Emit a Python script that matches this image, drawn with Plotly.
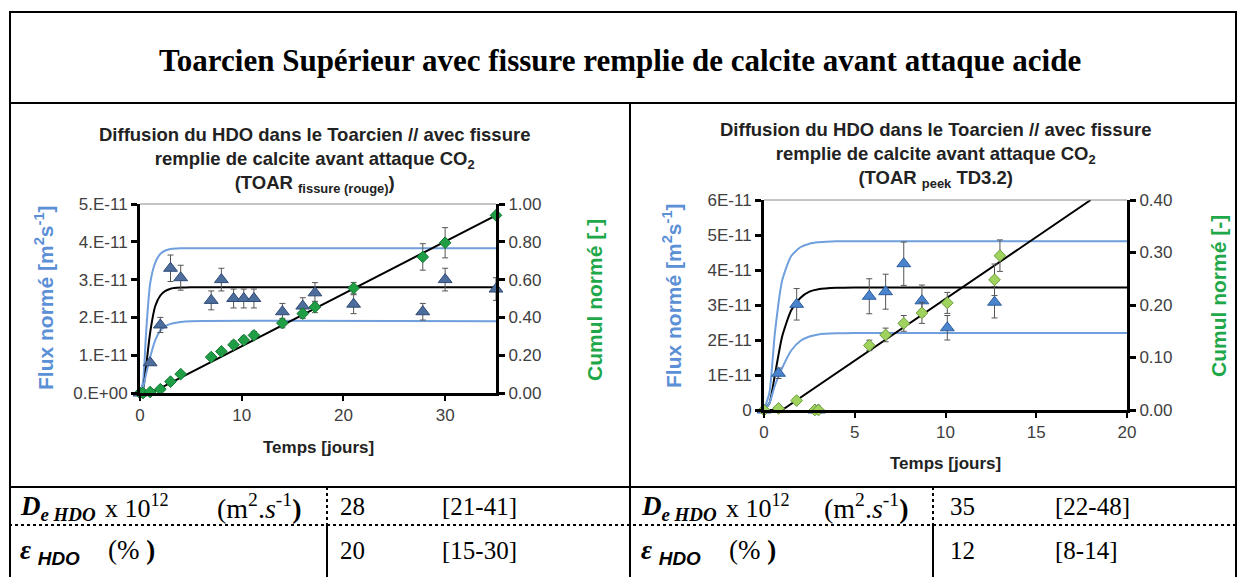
import plotly.graph_objects as go

W, H = 1238, 577
FLUX_UNIT = 1e-11


def X(px):
    return px / W


def Y(py):
    return 1 - py / H


# ---------------- Left chart : TOAR fissure (rouge) ----------------
left_t = [0, 1, 2, 3, 4, 7, 8, 9.2, 10.2, 11.2, 14, 16, 17.2, 21, 27.8, 30, 35]
left_flux = [0, 0.8, 1.8, 3.3, 3.05, 2.45, 3.0, 2.5, 2.5, 2.5, 2.15, 2.3, 2.65, 2.35, 2.15, 3.0, 2.75]
left_flux_err = [0, 0.0, 0.2, 0.35, 0.33, 0.25, 0.3, 0.25, 0.25, 0.25, 0.22, 0.22, 0.27, 0.25, 0.22, 0.3, 0.3]

left_cum_t = [0, 0.3, 1, 2, 3, 4, 7, 8, 9.2, 10.2, 11.2, 14, 16, 17.2, 21, 27.8, 30, 35]
left_cum = [0, 0, 0.005, 0.02, 0.06, 0.10, 0.19, 0.22, 0.255, 0.28, 0.305, 0.37, 0.42, 0.455, 0.555, 0.72, 0.795, 0.94]
left_cum_err = [0, 0, 0, 0, 0, 0, 0.015, 0.015, 0.02, 0.02, 0.02, 0.025, 0.025, 0.03, 0.03, 0.07, 0.08, 0]

left_fit_t = [0, 0.3, 0.6, 1.0, 1.5, 2.0, 2.5, 3.0, 4.0, 5.0, 35]
left_fit_high = [0, 0.3, 1.6, 2.9, 3.45, 3.68, 3.77, 3.81, 3.83, 3.83, 3.83]
left_fit_mid = [0, 0.1, 0.7, 1.6, 2.3, 2.58, 2.7, 2.76, 2.79, 2.8, 2.8]
left_fit_low = [0, 0.15, 0.5, 0.95, 1.4, 1.65, 1.77, 1.83, 1.88, 1.9, 1.9]
left_cum_fit_t = [0, 1.0, 2.0, 35]
left_cum_fit = [0, 0.002, 0.026, 0.94]

# ---------------- Right chart : TOAR peek TD3.2 ----------------
right_t = [0, 0.8, 1.8, 2.8, 3.0, 5.8, 6.7, 7.7, 8.7, 10.1, 12.7]
right_flux = [0, 1.05, 3.02, 0, 0, 3.25, 3.38, 4.18, 3.12, 2.35, 3.08]
right_flux_err = [0, 0.15, 0.45, 0, 0, 0.5, 0.5, 0.62, 0.45, 0.35, 0.45]

right_cum_t = [0, 0.8, 1.8, 2.8, 3.0, 5.8, 6.7, 7.7, 8.7, 10.1, 12.7, 13.0]
right_cum = [0, 0.003, 0.018, 0, 0, 0.123, 0.143, 0.165, 0.185, 0.204, 0.248, 0.294]
right_cum_err = [0, 0, 0, 0, 0, 0.01, 0.013, 0.015, 0.02, 0.02, 0.03, 0.03]

right_fit_t = [0, 0.3, 0.6, 1.0, 1.5, 2.0, 2.5, 3.0, 4.0, 5.0, 20]
right_fit_high = [0, 0.5, 2.2, 3.7, 4.4, 4.65, 4.75, 4.79, 4.82, 4.82, 4.82]
right_fit_mid = [0, 0.2, 1.0, 2.1, 2.85, 3.2, 3.38, 3.45, 3.49, 3.5, 3.5]
right_fit_low = [0, 0.2, 0.7, 1.2, 1.7, 1.97, 2.1, 2.16, 2.19, 2.2, 2.2]
right_cum_fit_t = [0, 1.0, 18]
right_cum_fit = [0, 0, 0.40]

# Axis tick labels
left_flux_ticks = [0, 1, 2, 3, 4, 5]
left_flux_labels = ["0.E+00", "1.E-11", "2.E-11", "3.E-11", "4.E-11", "5.E-11"]
left_cum_ticks = [0, 0.2, 0.4, 0.6, 0.8, 1.0]
left_cum_labels = ["0.00", "0.20", "0.40", "0.60", "0.80", "1.00"]
left_time_ticks = [0, 10, 20, 30]

right_flux_ticks = [0, 1, 2, 3, 4, 5, 6]
right_flux_labels = ["0", "1E-11", "2E-11", "3E-11", "4E-11", "5E-11", "6E-11"]
right_cum_ticks = [0, 0.1, 0.2, 0.3, 0.4]
right_cum_labels = ["0.00", "0.10", "0.20", "0.30", "0.40"]
right_time_ticks = [0, 5, 10, 15, 20]

# Table contents
title_text = "Toarcien Supérieur avec fissure remplie de calcite avant attaque acide"
de_values = ["28", "35"]
de_ranges = ["[21-41]", "[22-48]"]
eps_values = ["20", "12"]
eps_ranges = ["[15-30]", "[8-14]"]

FIT_BLUE = "#6f9fdc"
ERR = "#555555"


def scale(vals):
    return [v * FLUX_UNIT for v in vals]


fig = go.Figure()


def add_chart(xa, ya_flux, ya_cum, fit_t, fits, cum_fit_t, cum_fit,
              t, flux, flux_err, cum_t, cum, cum_err, tri_col, tri_edge, dia_col, dia_edge):
    for vals, col in zip(fits, [FIT_BLUE, "black", FIT_BLUE]):
        fig.add_trace(go.Scatter(
            x=fit_t, y=scale(vals), xaxis=xa, yaxis=ya_flux, mode="lines",
            line=dict(color=col, width=2, shape="spline", smoothing=0.6),
            showlegend=False, hoverinfo="skip"))
    fig.add_trace(go.Scatter(
        x=cum_fit_t, y=cum_fit, xaxis=xa, yaxis=ya_cum, mode="lines",
        line=dict(color="black", width=2), showlegend=False, hoverinfo="skip"))
    fig.add_trace(go.Scatter(
        x=t, y=scale(flux), xaxis=xa, yaxis=ya_flux, mode="markers",
        marker=dict(symbol="triangle-up", size=12, color=tri_col,
                    line=dict(color=tri_edge, width=1)),
        error_y=dict(type="data", array=scale(flux_err), color=ERR, thickness=1, width=3),
        cliponaxis=False, showlegend=False))
    fig.add_trace(go.Scatter(
        x=cum_t, y=cum, xaxis=xa, yaxis=ya_cum, mode="markers",
        marker=dict(symbol="diamond", size=9, color=dia_col,
                    line=dict(color=dia_edge, width=1)),
        error_y=dict(type="data", array=cum_err, color=ERR, thickness=1, width=3),
        cliponaxis=False, showlegend=False))


add_chart("x", "y", "y2", left_fit_t, [left_fit_high, left_fit_mid, left_fit_low],
          left_cum_fit_t, left_cum_fit, left_t, left_flux, left_flux_err,
          left_cum_t, left_cum, left_cum_err, "#4d6e9c", "#2e4a74", "#1f9e45", "#137a32")
add_chart("x2", "y3", "y4", right_fit_t, [right_fit_high, right_fit_mid, right_fit_low],
          right_cum_fit_t, right_cum_fit, right_t, right_flux, right_flux_err,
          right_cum_t, right_cum, right_cum_err, "#4a84cc", "#2c5d9e", "#9fd35e", "#6c9c3c")

tick_font = dict(family="Liberation Sans, Arial", size=17, color="#404040")
common = dict(showgrid=False, zeroline=False, showline=True, linecolor="black",
              tickfont=tick_font, ticks="outside", tickcolor="black", automargin=False)

fig.update_layout(
    width=W, height=H, margin=dict(l=0, r=0, t=0, b=0, pad=0, autoexpand=False),
    paper_bgcolor="white", plot_bgcolor="white", showlegend=False,
    xaxis=dict(domain=[X(140), X(496)], range=[0, 35], tickvals=left_time_ticks,
               anchor="y", linewidth=3, ticklen=5, tickwidth=2, **common),
    yaxis=dict(domain=[Y(393), Y(204)], range=[0, 5 * FLUX_UNIT],
               tickvals=scale(left_flux_ticks), ticktext=left_flux_labels,
               anchor="x", linewidth=3, ticklen=6, tickwidth=3, **common),
    yaxis2=dict(domain=[Y(393), Y(204)], range=[0, 1], overlaying="y", side="right",
                tickvals=left_cum_ticks, ticktext=left_cum_labels,
                anchor="x", linewidth=3, ticklen=6, tickwidth=3, **common),
    xaxis2=dict(domain=[X(764), X(1127)], range=[0, 20], tickvals=right_time_ticks,
                anchor="y3", linewidth=3, ticklen=5, tickwidth=2, **common),
    yaxis3=dict(domain=[Y(410), Y(200)], range=[0, 6 * FLUX_UNIT],
                tickvals=scale(right_flux_ticks), ticktext=right_flux_labels,
                anchor="x2", linewidth=3, ticklen=6, tickwidth=3, **common),
    yaxis4=dict(domain=[Y(410), Y(200)], range=[0, 0.4], overlaying="y3", side="right",
                tickvals=right_cum_ticks, ticktext=right_cum_labels,
                anchor="x2", linewidth=3, ticklen=6, tickwidth=3, **common),
)

shapes = []


def hline(x0, x1, y, width=2, dash="solid", color="black"):
    shapes.append(dict(type="line", xref="paper", yref="paper", x0=X(x0), x1=X(x1),
                       y0=Y(y), y1=Y(y), line=dict(color=color, width=width, dash=dash)))


def vline(x, y0, y1, width=2, dash="solid"):
    shapes.append(dict(type="line", xref="paper", yref="paper", x0=X(x), x1=X(x),
                       y0=Y(y0), y1=Y(y1), line=dict(color="black", width=width, dash=dash)))


# Table frame
hline(9, 1237, 12)
hline(9, 1237, 103)
hline(9, 1237, 487)
hline(9, 1237, 525, dash="dot")
vline(10, 12, 577)
vline(1236, 12, 577)
vline(630, 103, 577)
vline(327, 487, 525, dash="dot")
vline(327, 525, 577)
vline(933, 487, 525, dash="dot")
vline(933, 525, 577)
# Thin top borders of the plot areas
hline(140, 496, 204, width=1, color="#8a8a8a")
hline(764, 1127, 200, width=1, color="#8a8a8a")
fig.update_layout(shapes=shapes)

ann = []
SANS = "Liberation Sans, Arial"
SERIF = "Liberation Serif, Times New Roman"


def text(x, y, s, size, color="black", family=SANS, xanchor="center", angle=0):
    ann.append(dict(xref="paper", yref="paper", x=X(x), y=Y(y), text=s, showarrow=False,
                    xanchor=xanchor, yanchor="middle", textangle=angle,
                    font=dict(family=family, size=size, color=color)))


text(620, 60, "<b>" + title_text + "</b>", 31, family=SERIF)

chart_title = ("<b>Diffusion du HDO dans le Toarcien // avec fissure<br>"
               "remplie de calcite avant attaque CO<sub>2</sub><br>(TOAR <sub>{}</sub>{})</b>")
ann.append(dict(xref="paper", yref="paper", x=X(314), y=Y(160),
                text=chart_title.format("fissure (rouge)", ""), showarrow=False,
                xanchor="center", yanchor="middle",
                font=dict(family=SANS, size=18.5, color="#222222")))
ann.append(dict(xref="paper", yref="paper", x=X(935), y=Y(155),
                text=chart_title.format("peek", " TD3.2"), showarrow=False,
                xanchor="center", yanchor="middle",
                font=dict(family=SANS, size=18.5, color="#222222")))

flux_title = "<b>Flux normé [m<sup>2</sup>s<sup>-1</sup>]</b>"
cum_title = "<b>Cumul normé [-]</b>"
text(318, 447, "<b>Temps [jours]</b>", 17, color="#222222")
text(945, 463, "<b>Temps [jours]</b>", 17, color="#222222")
text(44, 298, flux_title, 21, color="#5b8fd6", angle=-90)
text(594, 300, cum_title, 21, color="#1ea84a", angle=-90)
text(672, 296, flux_title, 21, color="#5b8fd6", angle=-90)
text(1218, 296, cum_title, 21, color="#1ea84a", angle=-90)

# Parameter rows, each label built from its pieces
de_name = "<b><i>D</i></b><sub><b><i>e HDO</i></b></sub>"
de_factor = "x 10<sup>12</sup>"
de_unit = "(m<sup>2</sup>.<i>s</i><sup>-1</sup><b>)</b>"
eps_name = ("<b><i>ε</i></b> <sub><b><i><span style=\"font-family:Liberation Sans\">HDO</span>"
            "</i></b></sub>")
eps_unit = "(% <b>)</b>"

for i, x0 in enumerate([18, 639]):
    xv = [338, 948][i]
    xr = [440, 1053][i]
    text(x0, 508, de_name, 27, family=SERIF, xanchor="left")
    text(x0 + 85, 506, de_factor, 26, family=SERIF, xanchor="left")
    text([303, 910][i], 506, de_unit, 28, family=SERIF, xanchor="right")
    text(x0, 552, eps_name, 27, family=SERIF, xanchor="left")
    text(x0 + 88, 550, eps_unit, 27, family=SERIF, xanchor="left")
    text(xv, 506, de_values[i], 25, family=SERIF, xanchor="left")
    text(xr, 506, de_ranges[i], 25, family=SERIF, xanchor="left")
    text(xv, 550, eps_values[i], 25, family=SERIF, xanchor="left")
    text(xr, 550, eps_ranges[i], 25, family=SERIF, xanchor="left")

fig.update_layout(annotations=ann)
fig.write_html("out.html")
